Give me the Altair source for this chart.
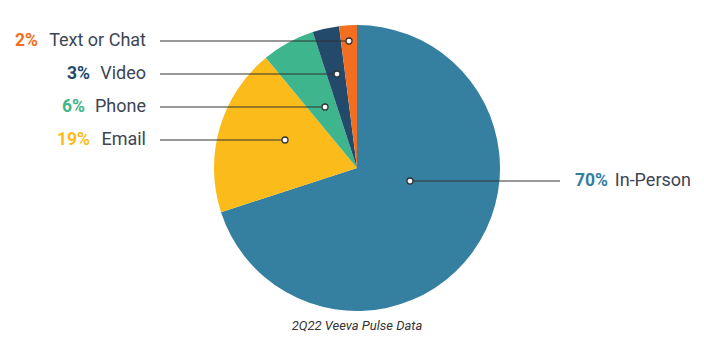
import altair as alt
import pandas as pd

categories = ["In-Person", "Email", "Phone", "Video", "Text or Chat"]
shares = [70, 19, 6, 3, 2]
pct_labels = ["70%", "19%", "6%", "3%", "2%"]
colors = ["#357fa0", "#fbbc1b", "#3fb58e", "#23496b", "#f26e21"]
caption = "2Q22 Veeva Pulse Data"

# annotation layout (page pixel coordinates)
dot_x = [410, 285, 325, 337, 349]
row_y = [181, 140, 107, 74, 41]
line_end_x = [560, 160, 160, 160, 160]
name_right_x = [691, 146, 146, 146, 146]
pct_right_x = [608, 90, 85, 90, 38]

pie = pd.DataFrame({"category": categories, "share": shares, "idx": range(len(categories))})
ann = pd.DataFrame({
    "category": categories, "pct": pct_labels, "dot_x": dot_x, "row_y": row_y,
    "line_end_x": line_end_x, "name_x": name_right_x, "pct_x": pct_right_x,
})
cap = pd.DataFrame({"t": [caption], "x": [357], "y": [326]})

W, H = 688, 342
xs = alt.Scale(domain=[8, 8 + W])
ys = alt.Scale(domain=[8, 8 + H], reverse=True)
cscale = alt.Scale(domain=categories, range=colors)

arcs = alt.Chart(pie).mark_arc(radius=143, stroke=None).encode(
    theta=alt.Theta("share:Q", stack=True),
    color=alt.Color("category:N", scale=cscale, legend=None),
    order=alt.Order("idx:Q"),
    x=alt.value(357 - 8),
    y=alt.value(168 - 8),
)

lines = alt.Chart(ann).mark_rule(color="#333333", strokeWidth=1.2).encode(
    x=alt.X("dot_x:Q", scale=xs, axis=None),
    x2="line_end_x:Q",
    y=alt.Y("row_y:Q", scale=ys, axis=None),
)

dots = alt.Chart(ann).mark_point(filled=True, fill="white", stroke="#333333", strokeWidth=1.3, size=36, opacity=1).encode(
    x=alt.X("dot_x:Q", scale=xs, axis=None),
    y=alt.Y("row_y:Q", scale=ys, axis=None),
)

names = alt.Chart(ann).mark_text(align="right", baseline="middle", font="Roboto", fontSize=18, color="#3d4554").encode(
    x=alt.X("name_x:Q", scale=xs, axis=None),
    y=alt.Y("row_y:Q", scale=ys, axis=None),
    text="category:N",
)

pcts = alt.Chart(ann).mark_text(align="right", baseline="middle", font="Roboto", fontSize=17.5, fontWeight="bold").encode(
    x=alt.X("pct_x:Q", scale=xs, axis=None),
    y=alt.Y("row_y:Q", scale=ys, axis=None),
    text="pct:N",
    color=alt.Color("category:N", scale=cscale, legend=None),
)

capt = alt.Chart(cap).mark_text(align="center", baseline="middle", font="Roboto", fontSize=13, fontStyle="italic", color="#333333").encode(
    x=alt.X("x:Q", scale=xs, axis=None),
    y=alt.Y("y:Q", scale=ys, axis=None),
    text="t:N",
)

chart = alt.layer(arcs, lines, dots, names, pcts, capt).properties(
    width=W, height=H, padding=0, autosize=alt.AutoSizeParams(type="none")
).configure_view(stroke=None)

chart.save("out.html", embed_options={"renderer": "svg", "actions": False})
